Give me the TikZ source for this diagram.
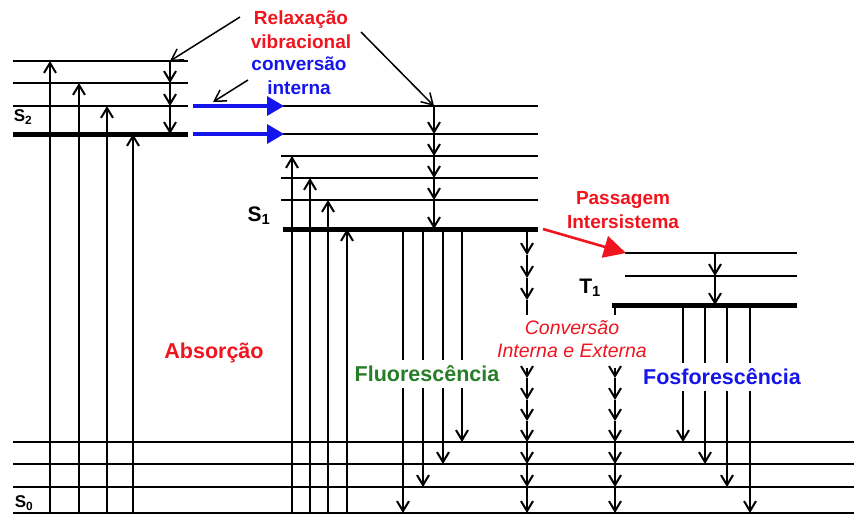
\documentclass[tikz,border=0pt]{standalone}
\usepackage{fontspec}
\setmainfont{Liberation Sans}
\usetikzlibrary{arrows.meta}
\definecolor{fred}{RGB}{240,20,30}
\definecolor{fblue}{RGB}{20,20,235}
\definecolor{fgreen}{RGB}{40,125,40}
\tikzset{
  lvl/.style={line width=2pt},
  gnd/.style={line width=5pt},
  trans/.style={line width=2pt,-{Straight Barb[length=10pt,width=12pt]}},
  note/.style={line width=1.5pt,-{Straight Barb[length=11pt,width=13pt]}},
  icarrow/.style={fblue,line width=3.4pt,-{Triangle[length=17pt,width=19pt]}},
  iscarrow/.style={fred,line width=2.6pt,-{Triangle[length=22pt,width=22pt]}},
  ann/.style={font=\bfseries\fontsize{19}{24}\selectfont,align=center,inner sep=0pt},
  cat/.style={font=\bfseries\fontsize{21.5}{26}\selectfont,inner sep=0pt},
  catbg/.style={cat,fill=white,inner xsep=3pt,inner ysep=6pt},
  itl/.style={font=\itshape\fontsize{19.5}{23}\selectfont,text=fred,inner sep=0pt},
  state/.style={font=\bfseries,inner sep=0pt},
}
\begin{document}
\begin{tikzpicture}[x=1pt,y=-1pt]
\useasboundingbox (0,0) rectangle (854,515);

% ---- S0 levels
\foreach \y in {442,464,487,513} \draw[lvl] (13,\y) -- (854,\y);
% ---- S2 levels
\foreach \y in {61,83,106} \draw[lvl] (13,\y) -- (188,\y);
\draw[gnd] (13,134.5) -- (188,134.5);
% ---- S1 levels
\draw[lvl] (283,106) -- (538,106);
\draw[lvl] (283,134) -- (538,134);
\foreach \y in {156,178,200} \draw[lvl] (281,\y) -- (538,\y);
\draw[gnd] (283,229.5) -- (538,229.5);
% ---- T1 levels
\draw[lvl] (625,253) -- (797,253);
\draw[lvl] (625,276) -- (797,276);
\draw[gnd] (612,305.5) -- (797,305.5);

% ---- state labels
\node[state,font=\bfseries\fontsize{17}{19}\selectfont] (s2) at (23,117) {S\textsubscript{2}};
\node[state,font=\bfseries\fontsize{21}{24}\selectfont] (s1) at (259,216) {S\textsubscript{1}};
\node[state,font=\bfseries\fontsize{21}{24}\selectfont] (t1) at (590,288) {T\textsubscript{1}};
\node[state,font=\bfseries\fontsize{17}{19}\selectfont] (s0) at (24,503) {S\textsubscript{0}};

% ---- absorption
\foreach \x/\y in {50/61,79/83,107/106,133/134,292/156,310/178,328/200,347/229}
  \draw[trans] (\x,513) -- (\x,\y);

% ---- vibrational relaxation
\draw[trans] (170,61) -- (170,83);
\draw[trans] (170,83) -- (170,106);
\draw[trans] (170,106) -- (170,134);
\foreach \a/\b in {106/134,134/156,156/178,178/200,200/229}
  \draw[trans] (434,\a) -- (434,\b);
\draw[trans] (715,253) -- (715,276);
\draw[trans] (715,276) -- (715,305);

% ---- internal conversion S2 -> S1
\draw[icarrow] (193,106) -- (284,106);
\draw[icarrow] (193,134) -- (284,134);

% ---- intersystem crossing S1 -> T1
\draw[iscarrow] (543,229) -- (626,253);

% ---- fluorescence and phosphorescence
\foreach \x/\y in {403/513,423/487,443/464,462/442}
  \draw[trans] (\x,229) -- (\x,\y);
\foreach \x/\y in {683/442,705/464,727/487,750/513}
  \draw[trans] (\x,305) -- (\x,\y);

% ---- internal and external conversion (non-radiative cascades)
\draw[trans] (527,229) -- (527,255);
\draw[trans] (527,255) -- (527,278);
\draw[trans] (527,278) -- (527,300);
\draw[lvl] (527,300) -- (527,315);
\draw[lvl] (615,305) -- (615,315);
\foreach \x in {527,615}{
  \draw[trans] (\x,368) -- (\x,378);
  \foreach \a/\b in {378/400,400/421,421/442,442/464,464/487,487/513}
    \draw[trans] (\x,\a) -- (\x,\b);
}

% ---- process labels
\node[ann,text=fred] (rv) at (301,30) {Relaxação\\vibracional};
\node[ann,text=fblue] (ci) at (299,76) {conversão\\interna};
\node[ann,text=fred] (pi) at (623,210) {Passagem\\Intersistema};
\node[cat,text=fred] (abs) at (214,353) {Absorção};
\node[catbg,text=fgreen] (flu) at (427,374) {Fluorescência};
\node[catbg,text=fblue] (fos) at (722,377) {Fosforescência};
\node[itl] (cv1) at (572,328) {Conversão};
\node[itl] (cv2) at (572,351) {Interna e Externa};

% ---- pointers from the labels
\coordinate (rvL) at (240,17);
\coordinate (rvR) at (361,32);
\coordinate (ciL) at (248,80);
\coordinate (s2top) at (170,61);
\coordinate (s1top) at (434,106);
\coordinate (bluemid) at (213,102);
\draw[note] (rvL) -- (s2top);
\draw[note] (rvR) -- (s1top);
\draw[note] (ciL) -- (bluemid);
\end{tikzpicture}
\end{document}
